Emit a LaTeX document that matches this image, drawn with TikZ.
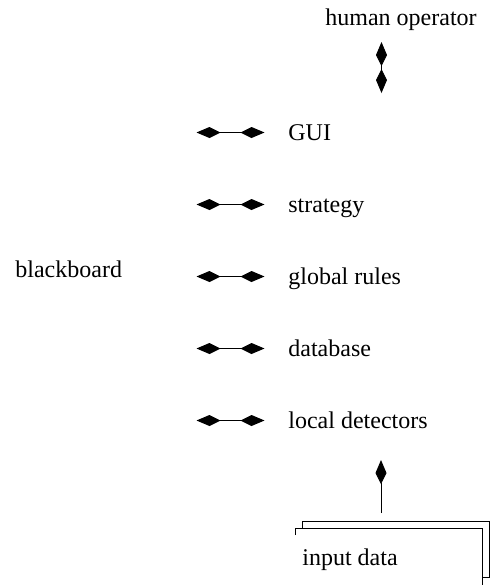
\documentclass[tikz,border=0pt]{standalone}
\usepackage{fontspec}
\setmainfont{Liberation Serif}
\usetikzlibrary{arrows.meta,positioning}

\begin{document}
\begin{tikzpicture}[x=0.5pt,y=-0.5pt,
    lbl/.style={inner sep=0pt, anchor=west, text height=8pt, text depth=0.5pt,
      font=\fontsize{12}{14}\selectfont},
    twoway/.style={line width=0.5pt, arrows={Kite[length=12pt,width=5.5pt,inset=5.5pt]-Kite[length=12pt,width=5.5pt,inset=5.5pt]}},
    oneway/.style={line width=0.5pt, arrows={-Kite[length=12pt,width=5.5pt,inset=5.5pt]}},
    sheet/.style={line width=0.5pt}]
  \useasboundingbox (0,0) rectangle (491,585);

  % Layers of the system
  \node[lbl] (operator) at (325,17.5) {human operator};
  \node[lbl] (board) at (15,269.5) {blackboard};
  \node[lbl] (gui) at (288,132.5) {GUI};
  \node[lbl] (strategy) at (288,204.5) {strategy};
  \node[lbl] (rules) at (288,276.5) {global rules};
  \node[lbl] (db) at (288,348.5) {database};
  \node[lbl] (local) at (288,420.5) {local detectors};
  \node[lbl] (input) at (302,557.5) {input data};

  % Links to the blackboard
  \coordinate (guiL) at (196.5,132.5);
  \coordinate (strategyL) at (196.5,204.5);
  \coordinate (rulesL) at (196.5,276.5);
  \coordinate (dbL) at (196.5,348.5);
  \coordinate (localL) at (196.5,420.5);
  \draw[twoway, shorten >=11.75pt] (guiL) -- (gui);
  \draw[twoway, shorten >=11.75pt] (strategyL) -- (strategy);
  \draw[twoway, shorten >=11.75pt] (rulesL) -- (rules);
  \draw[twoway, shorten >=11.75pt] (dbL) -- (db);
  \draw[twoway, shorten >=11.75pt] (localL) -- (local);

  % Operator link
  \coordinate (opTop) at (381.5,42);
  \coordinate (opBot) at (381.5,93);
  \draw[twoway] (opTop) -- (opBot);

  % Stack of input sheets
  \draw[sheet] (302,528) -- (302,521) -- (489,521) -- (489,577) -- (482,577);
  \draw[sheet] (295,535) -- (295,528) -- (482,528) -- (482,585);
  \coordinate (inTop) at (381,460);
  \coordinate (inBot) at (381,513);
  \draw[oneway] (inBot) -- (inTop);
\end{tikzpicture}
\end{document}
